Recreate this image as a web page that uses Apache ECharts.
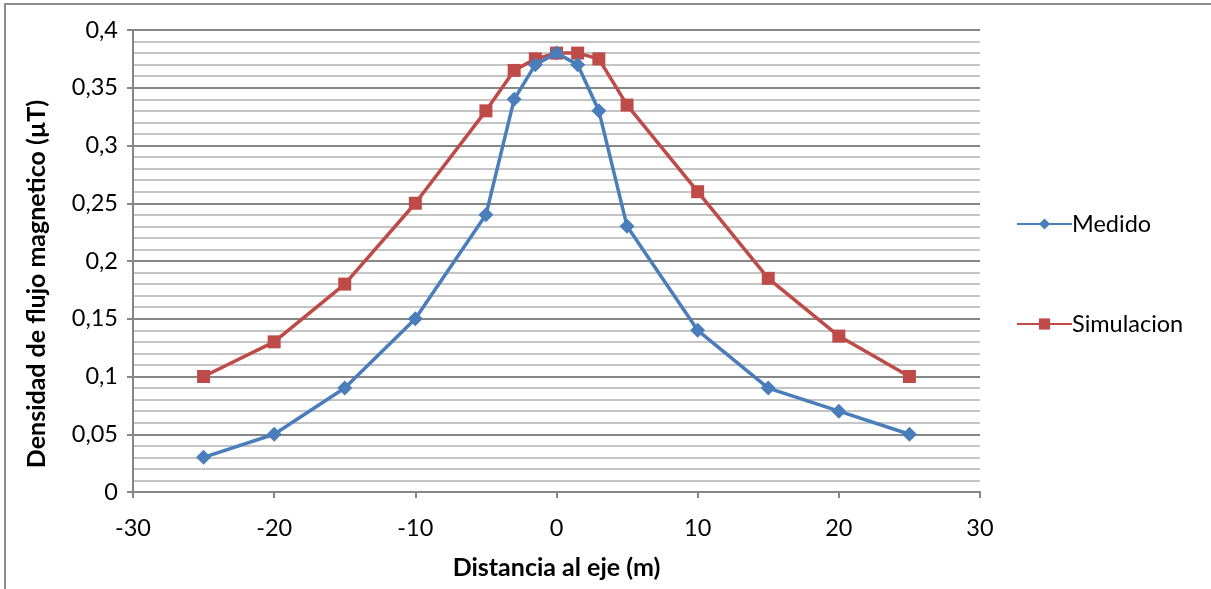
<!DOCTYPE html>
<html>
<head>
<meta charset="utf-8">
<script src="https://cdn.jsdelivr.net/npm/echarts@6/dist/echarts.min.js"></script>
<style>
  html, body { margin: 0; padding: 0; background: #fff; }
  #chart { width: 1211px; height: 589px; }
</style>
</head>
<body>
<div id="chart"></div>
<script>
// Distance from the line axis (m)
const distMedido = [-25, -20, -15, -10, -5, -3, -1.5, 0, 1.5, 3, 5, 10, 15, 20, 25];
const valMedido  = [0.03, 0.05, 0.09, 0.15, 0.24, 0.34, 0.37, 0.38, 0.37, 0.33, 0.23, 0.14, 0.09, 0.07, 0.05];

const distSimulacion = [-25, -20, -15, -10, -5, -3, -1.5, 0, 1.5, 3, 5, 10, 15, 20, 25];
const valSimulacion  = [0.10, 0.13, 0.18, 0.25, 0.33, 0.365, 0.375, 0.38, 0.38, 0.375, 0.335, 0.26, 0.185, 0.135, 0.10];

const seriesNames = ['Medido', 'Simulacion'];
const xTitle = 'Distancia al eje (m)';
const yTitle = 'Densidad de flujo magnetico (µT)';

const FONT = 'Lato, "Open Sans", sans-serif';
const AXIS_GRAY = '#868686';

const pairs = (xs, ys) => xs.map((x, i) => [x, ys[i]]);

const chart = echarts.init(document.getElementById('chart'), null, { renderer: 'canvas' });

chart.setOption({
  animation: false,
  backgroundColor: '#ffffff',
  grid: { left: 133, right: 231, top: 30, bottom: 97, containLabel: false },
  xAxis: {
    type: 'value',
    min: -30, max: 30, interval: 10,
    name: xTitle,
    nameLocation: 'middle',
    nameGap: 63,
    nameTextStyle: { fontFamily: FONT, fontSize: 25, fontWeight: 'bold', color: '#000' },
    axisLine: { show: true, onZero: false, lineStyle: { color: AXIS_GRAY, width: 2 } },
    axisTick: { show: true, length: 6, lineStyle: { color: AXIS_GRAY, width: 2 } },
    axisLabel: { fontFamily: FONT, fontSize: 23.5, color: '#000', margin: 24 },
    splitLine: { show: false },
    minorSplitLine: { show: false }
  },
  yAxis: {
    type: 'value',
    min: 0, max: 0.4, interval: 0.05,
    axisLine: { show: true, onZero: false, lineStyle: { color: AXIS_GRAY, width: 2 } },
    axisTick: { show: true, length: 6, lineStyle: { color: AXIS_GRAY, width: 2 } },
    minorTick: { show: false, splitNumber: 5 },
    axisLabel: {
      fontFamily: FONT, fontSize: 23.5, color: '#000', margin: 15,
      formatter: v => String(+v.toFixed(2)).replace('.', ',')
    },
    splitLine: { show: true, lineStyle: { color: AXIS_GRAY, width: 2 } },
    minorSplitLine: { show: true, lineStyle: { color: '#c4c4c4', width: 2 } }
  },
  legend: {
    orient: 'vertical',
    left: 1011,
    top: 207,
    itemWidth: 55,
    itemHeight: 14,
    itemGap: 76,
    textStyle: { fontFamily: FONT, fontSize: 23.5, color: '#000', padding: [0, 0, 0, -5] },
    data: seriesNames
  },
  series: [
    {
      name: seriesNames[0],
      type: 'line',
      data: pairs(distMedido, valMedido),
      symbol: 'diamond',
      symbolSize: 15,
      lineStyle: { color: '#4A7EBB', width: 3.5 },
      itemStyle: { color: '#4A7EBB' },
      z: 3
    },
    {
      name: seriesNames[1],
      type: 'line',
      data: pairs(distSimulacion, valSimulacion),
      symbol: 'rect',
      symbolSize: 13,
      lineStyle: { color: '#BE4B48', width: 3.5 },
      itemStyle: { color: '#BE4B48' },
      z: 2
    }
  ],
  graphic: [
    {
      type: 'text',
      x: 37, y: 284,
      rotation: Math.PI / 2,
      style: {
        text: yTitle,
        align: 'center',
        verticalAlign: 'middle',
        fontFamily: FONT, fontSize: 25, fontWeight: 'bold', fill: '#000'
      }
    },
    {
      type: 'line',
      shape: { x1: 5, y1: 3, x2: 5, y2: 589 },
      style: { stroke: '#8c8c8c', lineWidth: 2 }
    },
    {
      type: 'line',
      shape: { x1: 4, y1: 4, x2: 1211, y2: 4 },
      style: { stroke: '#8c8c8c', lineWidth: 2 }
    }
  ]
});
</script>
</body>
</html>
